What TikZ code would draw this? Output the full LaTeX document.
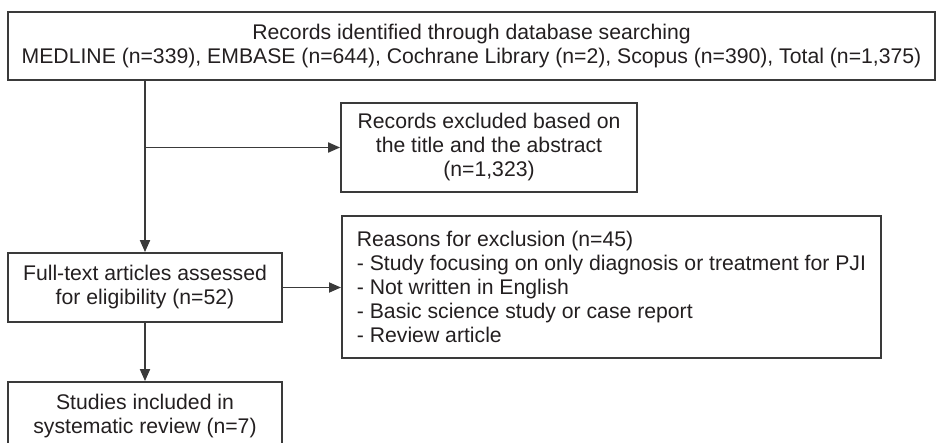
\documentclass[tikz,border=0pt]{standalone}
\usepackage{fontspec}
\setmainfont{Liberation Sans}
\usetikzlibrary{arrows.meta}
\definecolor{edgegray}{HTML}{3A3A3A}
\definecolor{inkgray}{HTML}{231F20}
\begin{document}
\begin{tikzpicture}[x=1pt,y=-1pt,
  box/.style={draw=edgegray, line width=1.8pt, text=inkgray, align=center, inner sep=0pt,
    font=\fontsize{21.2}{24}\selectfont},
  flow/.style={draw=edgegray, line width=1.8pt, -{Triangle[length=12pt,width=10pt]}}]
  \useasboundingbox (0,0) rectangle (936,443);
  % Boxes
  \node[box, minimum width=927pt, minimum height=68pt] (records) at (471.5,46)
    {Records identified through database searching\\
     MEDLINE (n=339), EMBASE (n=644), Cochrane Library (n=2), Scopus (n=390), Total (n=1,375)};
  \node[box, minimum width=296pt, minimum height=89pt] (excluded) at (489,147.5)
    {Records excluded based on\\the title and the abstract\\(n=1,323)};
  \node[box, minimum width=274pt, minimum height=69pt] (fulltext) at (145,287.5)
    {Full-text articles assessed\\for eligibility (n=52)};
  \node[box, align=left, anchor=west, inner xsep=15pt, minimum height=142pt] (reasons) at (341,287)
    {Reasons for exclusion (n=45)\\
     - Study focusing on only diagnosis or treatment for PJI\\
     - Not written in English\\
     - Basic science study or case report\\
     - Review article};
  \node[box, minimum width=274pt, minimum height=69pt] (included) at (145,416.5)
    {Studies included in\\systematic review (n=7)};
  % Arrows
  \draw[flow] (records.south -| fulltext.north) -- (fulltext.north);
  \draw[flow] (excluded.west -| fulltext.north) -- (excluded.west);
  \draw[flow] (fulltext.east) -- (fulltext.east -| reasons.west);
  \draw[flow] (fulltext.south) -- (included.north);
\end{tikzpicture}
\end{document}
